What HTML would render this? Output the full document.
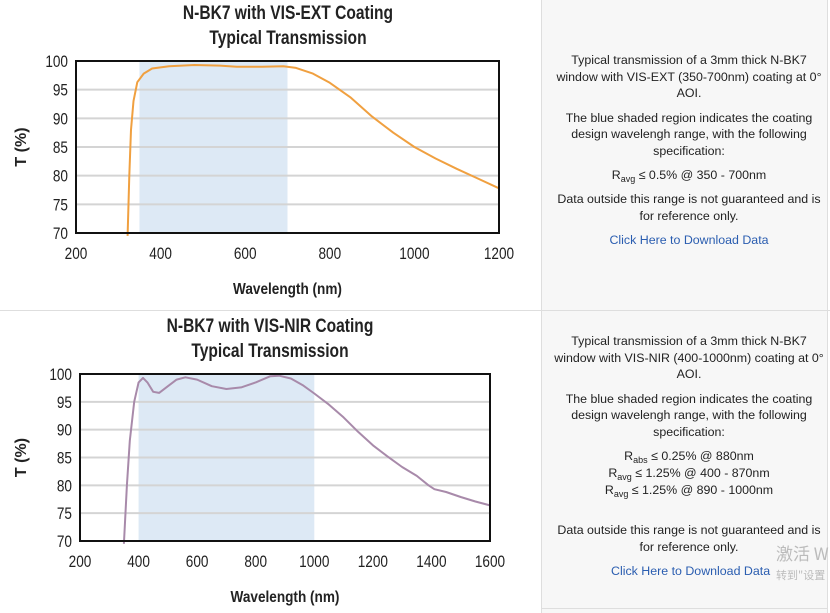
<!DOCTYPE html>
<html><head><meta charset="utf-8"><style>
html,body{margin:0;padding:0;background:#fff;}
body{width:830px;height:613px;position:relative;overflow:hidden;font-family:"Liberation Sans","Noto Sans CJK SC",sans-serif;}
.panel{position:absolute;left:541px;width:285px;background:#f7f7f7;border-left:1px solid #dedede;border-right:1px solid #dedede;}
.txt{position:absolute;width:272px;text-align:center;font-size:12.4px;line-height:16.7px;color:#222;}
.txt p{margin:0 0 7.5px 0;}
.link{color:#2a5db0;}
sub{font-size:9px;vertical-align:-3px;line-height:0;}
.wm{position:absolute;color:#bbb;font-family:"Noto Sans CJK SC",sans-serif;white-space:nowrap;}
</style></head><body>
<div class="panel" style="top:0;height:310px;"></div>
<div class="panel" style="top:311px;height:302px;"></div>
<div style="position:absolute;left:0;top:310px;width:830px;height:1px;background:#dedede"></div>
<div style="position:absolute;left:541px;top:608px;width:286px;height:1px;background:#dedede"></div>

<div class="txt" style="left:553px;top:52px;">
<p>Typical transmission of a 3mm thick N-BK7 window with VIS-EXT (350-700nm) coating at 0° AOI.</p>
<p>The blue shaded region indicates the coating design wavelengh range, with the following specification:</p>
<p>R<sub>avg</sub> ≤ 0.5% @ 350 - 700nm</p>
<p>Data outside this range is not guaranteed and is for reference only.</p>
<p class="link">Click Here to Download Data</p>
</div>

<div class="txt" style="left:553px;top:333px;">
<p>Typical transmission of a 3mm thick N-BK7 window with VIS-NIR (400-1000nm) coating at 0° AOI.</p>
<p>The blue shaded region indicates the coating design wavelengh range, with the following specification:</p>
<p style="margin-bottom:0">R<sub>abs</sub> ≤ 0.25% @ 880nm</p>
<p style="margin-bottom:0">R<sub>avg</sub> ≤ 1.25% @ 400 - 870nm</p>
<p style="margin-bottom:24px">R<sub>avg</sub> ≤ 1.25% @ 890 - 1000nm</p>
<p>Data outside this range is not guaranteed and is for reference only.</p>
<p class="link" style="text-align:left;padding-left:58px">Click Here to Download Data</p>
</div>
<div class="wm" style="left:776px;top:540px;font-size:17px;">激活 W</div>
<div class="wm" style="left:776px;top:567px;font-size:11px;">转到"设置</div>

<svg id="s" width="541" height="613" style="position:absolute;left:0;top:0" font-family="Liberation Sans, sans-serif"></svg>
<script>
var s=document.getElementById('s'),h='';
function chart(o){
 var X=function(w){return o.x0+(w-o.w0)/(o.w1-o.w0)*(o.x1-o.x0)},Y=function(t){return o.y1-(t-70)/30*(o.y1-o.y0)};
 h+='<text x="'+o.cx+'" y="'+(o.y0-42)+'" text-anchor="middle" font-size="19" font-weight="bold" fill="#222" transform="scale(0.82,1)" transform-origin="'+o.cx+' 0">'+o.t1+'</text>';
 h+='<text x="'+o.cx+'" y="'+(o.y0-17)+'" text-anchor="middle" font-size="19" font-weight="bold" fill="#222" transform="scale(0.82,1)" transform-origin="'+o.cx+' 0">Typical Transmission</text>';
 h+='<rect x="'+X(o.s0)+'" y="'+o.y0+'" width="'+(X(o.s1)-X(o.s0))+'" height="'+(o.y1-o.y0)+'" fill="#dde9f5"/>';
 for(var t=75;t<100;t+=5)h+='<line x1="'+o.x0+'" x2="'+o.x1+'" y1="'+Y(t)+'" y2="'+Y(t)+'" stroke="#d4d4d4" stroke-width="2"/>';
 for(var t=70;t<=100;t+=5)h+='<text x="'+(o.x0-8)+'" y="'+(Y(t)+6)+'" text-anchor="end" font-size="17" fill="#222" transform="scale(0.8,1)" transform-origin="'+(o.x0-8)+' 0">'+t+'</text>';
 for(var w=o.w0;w<=o.w1;w+=200)h+='<text x="'+X(w)+'" y="'+(o.y1+26)+'" text-anchor="middle" font-size="17" fill="#222" transform="scale(0.8,1)" transform-origin="'+X(w)+' 0">'+w+'</text>';
 var d='';o.d.forEach(function(p,i){d+=(i?'L':'M')+X(p[0]).toFixed(1)+','+Y(p[1]).toFixed(1)});
 h+='<path d="'+d+'" fill="none" stroke="'+o.c+'" stroke-width="2" stroke-linejoin="round"/>';
 h+='<rect x="'+o.x0+'" y="'+o.y0+'" width="'+(o.x1-o.x0)+'" height="'+(o.y1-o.y0)+'" fill="none" stroke="#111" stroke-width="2"/>';
 h+='<text x="'+((o.x0+o.x1)/2)+'" y="'+(o.y1+61)+'" text-anchor="middle" font-size="16" font-weight="bold" fill="#222" transform="scale(0.85,1)" transform-origin="'+((o.x0+o.x1)/2)+' 0">Wavelength (nm)</text>';
 var my=(o.y0+o.y1)/2;
 h+='<text x="26" y="'+my+'" text-anchor="middle" font-size="16" font-weight="bold" fill="#222" transform="rotate(-90 26 '+my+')">T (%)</text>';
}
chart({x0:76,x1:499,y0:61,y1:233,w0:200,w1:1200,s0:350,s1:700,cx:288,t1:'N-BK7 with VIS-EXT Coating',c:'#f0a040',
d:[[322,69.5],[326,80],[330,88],[336,93],[345,96.3],[360,97.8],[380,98.7],[420,99.1],[480,99.3],[540,99.2],[580,99],[640,99],[690,99.1],[720,98.8],[760,97.8],[800,96.2],[850,93.6],[900,90.3],[950,87.5],[1000,85],[1050,83],[1100,81.2],[1150,79.5],[1200,77.8]]});
chart({x0:80,x1:490,y0:374,y1:541,w0:200,w1:1600,s0:400,s1:1000,cx:270,t1:'N-BK7 with VIS-NIR Coating',c:'#a88aaa',
d:[[350,69.5],[360,80],[370,88],[385,95],[400,98.5],[415,99.3],[430,98.5],[450,96.8],[470,96.6],[500,97.8],[530,99],[560,99.4],[600,99],[650,97.8],[700,97.3],[750,97.6],[800,98.5],[850,99.6],[880,99.7],[920,99.2],[960,98],[1000,96.5],[1050,94.5],[1100,92.2],[1150,89.6],[1200,87.2],[1250,85.2],[1300,83.3],[1350,81.7],[1390,80],[1410,79.3],[1450,78.8],[1500,77.9],[1550,77.1],[1600,76.4]]});
s.innerHTML=h;
</script>
</body></html>
